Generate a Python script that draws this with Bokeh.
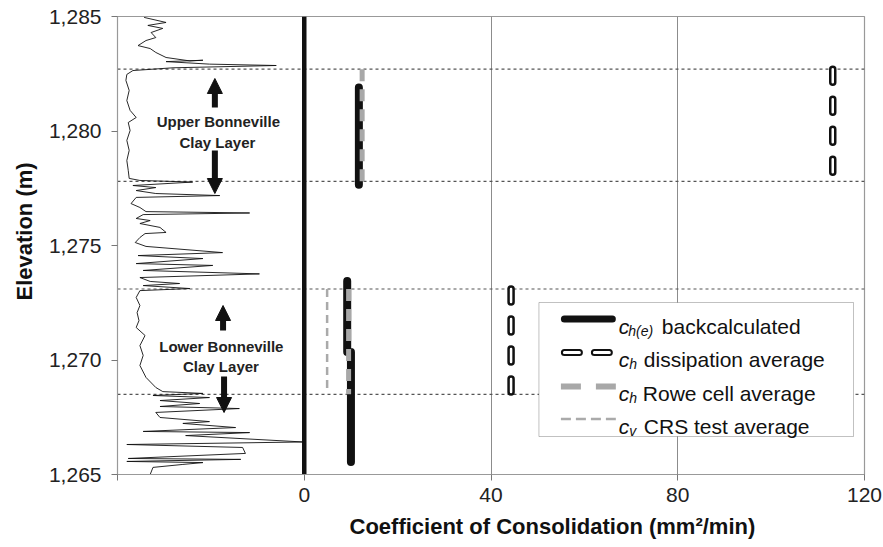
import math
from bokeh.plotting import figure
from bokeh.models import (Range1d, FixedTicker, NumeralTickFormatter, Span, Label,
                          BoxAnnotation, Arrow, NormalHead, Title)
from bokeh.embed import file_html
from bokeh.resources import INLINE

nan = float("nan")

# ---------------- data ----------------
elev_ticks = [1265, 1270, 1275, 1280, 1285]
x_ticks = [-40, 0, 40, 80, 120]
x_tick_labels = {-40: "", 0: "0", 40: "40", 80: "80", 120: "120"}
grid_x = [40, 80]
layer_bounds = [1282.7, 1277.8, 1273.1, 1268.5]

# CPT trace (drawn in the left panel, -40..0)
cpt_x = [-34.3, -29.6, -33.5, -30.3, -32.8, -31.8, -33.9, -35.6, -33.0, -31.8,
         -29.6, -24.5, -21.7, -29.6, -20.3, -6.0, -28.1, -36.7, -38.0, -38.2,
         -37.5, -38.0, -37.3, -36.0, -37.7, -37.3, -38.0, -37.5, -38.0, -37.7,
         -37.5, -35.2, -23.9, -36.7, -31.8, -36.0, -31.8, -18.1, -36.0, -37.1,
         -35.2, -33.9, -11.7, -34.5, -36.0, -33.0, -35.2, -30.9, -29.6, -34.1,
         -35.2, -36.2, -33.9, -17.5, -35.6, -21.7, -36.0, -19.6, -34.5, -9.6,
         -35.2, -33.0, -26.7, -34.5, -24.5, -35.2, -36.0, -35.2, -35.8, -35.4,
         -36.0, -34.1, -35.2, -34.5, -35.2, -33.9, -31.8, -30.3, -21.7, -32.4,
         -20.3, -30.9, -22.4, -30.9, -13.9, -31.8, -30.9, -20.3, -26.0, -14.7,
         -34.5, -11.7, -25.4, -0.2, -38.0, -13.2, -12.6, -37.7, -13.6, -38.0,
         -21.7, -26.0, -32.4, -33.0]
cpt_elev = [1284.96, 1284.74, 1284.61, 1284.48, 1284.30, 1284.08, 1283.95, 1283.73, 1283.60, 1283.43,
            1283.21, 1283.06, 1283.09, 1283.03, 1282.92, 1282.86, 1282.76, 1282.64, 1282.47, 1282.21,
            1281.77, 1281.33, 1280.90, 1280.59, 1280.37, 1280.02, 1279.59, 1279.15, 1278.71, 1278.28,
            1277.93, 1277.84, 1277.77, 1277.62, 1277.53, 1277.40, 1277.27, 1277.18, 1277.10, 1276.83,
            1276.66, 1276.48, 1276.42, 1276.35, 1276.18, 1276.09, 1275.96, 1275.79, 1275.57, 1275.52,
            1275.35, 1275.13, 1274.96, 1274.69, 1274.56, 1274.43, 1274.21, 1274.13, 1273.91, 1273.76,
            1273.60, 1273.43, 1273.34, 1273.25, 1273.12, 1273.03, 1272.73, 1272.38, 1272.07, 1271.72,
            1271.42, 1271.07, 1270.63, 1270.20, 1269.76, 1269.24, 1268.80, 1268.62, 1268.54, 1268.45,
            1268.36, 1268.23, 1268.10, 1267.97, 1267.88, 1267.71, 1267.49, 1267.31, 1267.23, 1267.05,
            1266.88, 1266.83, 1266.70, 1266.42, 1266.31, 1266.18, 1265.92, 1265.70, 1265.66, 1265.57,
            1265.52, 1265.44, 1265.31, 1265.00]

backcalc_x = [11.7, 11.7, nan, 9.2, 9.2, 10.0, 10.0]
backcalc_elev = [1281.9, 1277.65, nan, 1273.45, 1270.35, 1270.35, 1265.55]

dissip_x = [113.2, 44.3]
dissip_top = [1282.7, 1273.1]
dissip_bottom = [1278.0, 1268.5]

rowe_x = [12.4, 9.5]
rowe_top = [1282.7, 1273.1]
rowe_bottom = [1277.8, 1268.5]

crs_x = [4.9]
crs_top = [1273.1]
crs_bottom = [1268.7]

# ---------------- layout ----------------
W, H = 883, 547
L, R, T, B = 116, 864, 16, 474
X0, X1 = -40, 120
Y0, Y1 = 1265, 1285


def px2x(px):
    return X0 + (px - L) / (R - L) * (X1 - X0)


def px2y(py):
    return Y1 - (py - T) / (B - T) * (Y1 - Y0)


FONT = "Liberation Sans"

p = figure(width=W, height=H, x_range=Range1d(X0, X1), y_range=Range1d(Y0, Y1),
           output_backend="svg", toolbar_location=None,
           min_border_left=L, min_border_right=W - R, min_border_top=T,
           min_border_bottom=H - B)
p.background_fill_color = "white"
p.border_fill_color = "white"
p.outline_line_color = "#999999"
p.outline_line_width = 1.2

# axes
p.xaxis.ticker = FixedTicker(ticks=x_ticks)
p.xaxis.major_label_overrides = x_tick_labels
p.yaxis.ticker = FixedTicker(ticks=elev_ticks)
p.yaxis.formatter = NumeralTickFormatter(format="0,0")
for ax in (p.xaxis[0], p.yaxis[0]):
    ax.axis_line_color = "#999999"
    ax.major_tick_line_color = "#777777"
    ax.major_tick_out = 6
    ax.major_tick_in = 0
    ax.minor_tick_out = 0
    ax.minor_tick_in = 0
    ax.major_label_text_font = FONT
    ax.major_label_text_font_size = "21px"
    ax.major_label_text_color = "#222222"
p.yaxis.major_label_standoff = 10
p.xaxis.major_label_standoff = 7

p.xgrid.ticker = FixedTicker(ticks=grid_x)
p.xgrid.grid_line_color = "#8c8c8c"
p.xgrid.grid_line_width = 1
p.ygrid.grid_line_color = None

# axis titles
p.add_layout(Title(text="Coefficient of Consolidation (mm\u00b2/min)", align="left",
                   offset=232, standoff=15, text_font=FONT, text_font_size="22px",
                   text_font_style="bold", text_color="#111111"), "below")
p.add_layout(Title(text="Elevation (m)", align="left", offset=174, standoff=18,
                   text_font=FONT, text_font_size="22px", text_font_style="bold",
                   text_color="#111111"), "left")

# layer boundary dotted lines
for b in layer_bounds:
    p.add_layout(Span(location=b, dimension="width", line_color="#555555",
                      line_width=1.2, line_dash="3 3", level="underlay"))

# zero line
p.add_layout(Span(location=0, dimension="height", line_color="#111111",
                  line_width=4.5, level="underlay"))

# CPT trace
p.line(cpt_x, cpt_elev, line_color="#111111", line_width=0.9)

# backcalculated
p.line(backcalc_x, backcalc_elev, line_color="#111111", line_width=8,
       line_cap="round", line_join="round")

# Rowe cell
p.segment(x0=rowe_x, y0=rowe_top, x1=rowe_x, y1=rowe_bottom, line_color="#a8a8a8",
          line_width=5, line_dash="12 8")

# CRS
p.segment(x0=crs_x, y0=crs_top, x1=crs_x, y1=crs_bottom, line_color="#aaaaaa",
          line_width=2.5, line_dash="8 5")

# dissipation (outlined dashes)
p.segment(x0=dissip_x, y0=dissip_top, x1=dissip_x, y1=dissip_bottom, line_color="#111111",
          line_width=7.5, line_dash="13 17", line_cap="round")
p.segment(x0=dissip_x, y0=dissip_top, x1=dissip_x, y1=dissip_bottom, line_color="white",
          line_width=2.5, line_dash="13 17", line_cap="round")


# ---------------- layer annotations ----------------
def add_text(txt, px, py, size="15px", style="bold", align="center", angle=0.0,
             baseline="middle", color="#222222"):
    p.add_layout(Label(x=px2x(px), y=px2y(py), text=txt, text_font=FONT,
                       text_font_size=size, text_font_style=style, text_align=align,
                       text_baseline=baseline, angle=angle, text_color=color))


add_text("Upper Bonneville", 217, 121)
add_text("Clay Layer", 216, 142)
add_text("Lower Bonneville", 220, 346)
add_text("Clay Layer", 219.6, 366)


def add_arrow(px, py_start, py_end):
    p.add_layout(Arrow(x_start=px2x(px), y_start=px2y(py_start), x_end=px2x(px),
                       y_end=px2y(py_end), line_width=6, line_color="#111111",
                       end=NormalHead(size=15, fill_color="#111111", line_color="#111111",
                                      line_width=1)))


add_arrow(213.5, 107, 78)
add_arrow(213.5, 150, 193)
add_arrow(221.7, 330, 305)
add_arrow(222.7, 376, 412)

# ---------------- legend ----------------
p.add_layout(BoxAnnotation(left=px2x(538), right=px2x(853), top=px2y(302), bottom=px2y(436),
                           fill_color="white", fill_alpha=1.0, line_color="#333333",
                           line_width=1, level="annotation"))

rows = [318.5, 352, 386, 418.5]


def sample(x_a, x_b, py, **kw):
    p.add_layout(Arrow(x_start=px2x(x_a), y_start=px2y(py), x_end=px2x(x_b),
                       y_end=px2y(py), end=None, start=None, **kw))


sample(563.5, 611.5, rows[0], line_color="#111111", line_width=7, line_cap="round")
sample(563.5, 608.5, rows[1], line_color="#111111", line_width=7, line_cap="round",
       line_dash="15 15")
sample(563.5, 608.5, rows[1], line_color="white", line_width=3, line_cap="round",
       line_dash="15 15")
sample(560, 615, rows[2], line_color="#a8a8a8", line_width=6, line_dash="20 15")
sample(560, 615, rows[3], line_color="#aaaaaa", line_width=2.5, line_dash="10 5")

legend_entries = [("h(e)", "backcalculated"), ("h", "dissipation average"),
                  ("h", "Rowe cell average"), ("v", "CRS test average")]
sub_x = [627.5, 628.5, 628.5, 628.5]
rest_x = [661, 643, 642, 643]
for (sub, rest), ry, sx, rx in zip(legend_entries, rows, sub_x, rest_x):
    base = ry + 7
    add_text("c", 618, base, size="21px", style="italic", align="left",
             baseline="alphabetic", color="#111111")
    add_text(sub, sx, base + 4.5, size="14px", style="italic", align="left",
             baseline="alphabetic", color="#111111")
    add_text(rest, rx, base, size="21px", style="normal", align="left",
             baseline="alphabetic", color="#111111")

open("out.html", "w").write(file_html(p, INLINE))
